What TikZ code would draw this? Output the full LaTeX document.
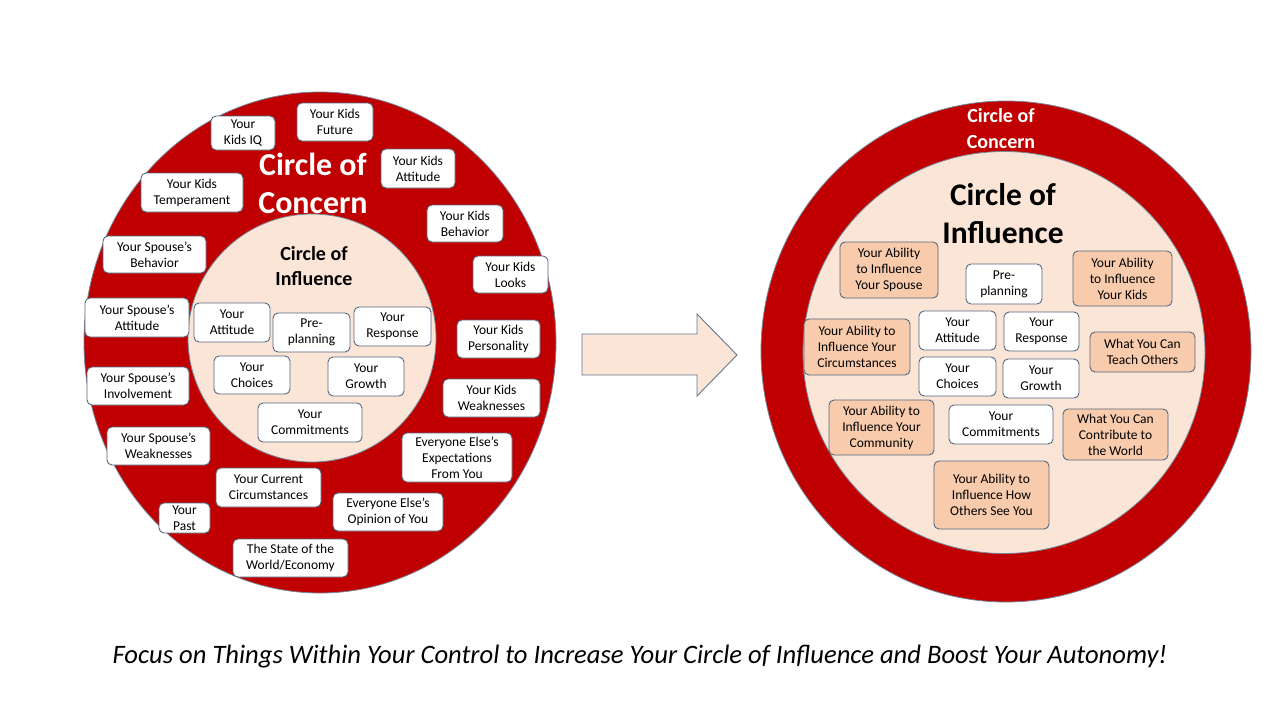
\documentclass[tikz,border=0pt]{standalone}
\usepackage{fontspec}
\setmainfont{Carlito}
\definecolor{cred}{RGB}{192,0,0}
\definecolor{peachL}{RGB}{251,229,214}
\definecolor{peachD}{RGB}{248,203,173}
\definecolor{bline}{RGB}{84,104,128}
\tikzset{
  bxs/.style={draw=bline, line width=0.9pt, rounded corners=5pt, inner sep=0pt, align=center,
    font=\fontsize{13.5}{16}\selectfont, text=black},
  wbox/.style={bxs, fill=white},
  pbox/.style={bxs, fill=peachD},
  ring/.style={draw=bline!80, line width=0.8pt},
}
\newcommand{\bx}[7]{\node[#1, minimum width={#5pt-#3pt}, minimum height={#6pt-#4pt}] (#2) at ({(#3+#5)/2},{(#4+#6)/2}) {#7};}
\begin{document}
\begin{tikzpicture}[x=1pt,y=-1pt]
\useasboundingbox (0,0) rectangle (1280,720);
% left circles
\path[ring, fill=cred] (320,342.5) ellipse [x radius=236, y radius=250.5];
\path[ring, fill=peachL] (312,338) circle [radius=124];
\node[text=white, font=\bfseries\fontsize{32}{38}\selectfont, align=center] (lcc) at (313,183) {Circle of\\Concern};
\node[text=black, font=\bfseries\fontsize{20}{25.5}\selectfont, align=center] (lci) at (314,266) {Circle of\\Influence};
\bx{wbox}{kidsIQ}{211}{116}{275}{150}{Your\\Kids IQ}
\bx{wbox}{kidsFuture}{297}{103}{373}{141}{Your Kids\\Future}
\bx{wbox}{kidsAtt}{381}{149}{455}{188}{Your Kids\\Attitude}
\bx{wbox}{kidsTemp}{141}{173}{243}{212}{Your Kids\\Temperament}
\bx{wbox}{kidsBeh}{427}{205}{503}{242}{Your Kids\\Behavior}
\bx{wbox}{spBeh}{103}{236}{206}{273}{Your Spouse’s\\Behavior}
\bx{wbox}{kidsLooks}{473}{256}{548}{293}{Your Kids\\Looks}
\bx{wbox}{spAtt}{85}{298}{189}{337}{Your Spouse’s\\Attitude}
\bx{wbox}{lAtt}{194}{303}{270}{342}{Your\\Attitude}
\bx{wbox}{lPre}{273}{313}{350}{352}{Pre-\\planning}
\bx{wbox}{lResp}{354}{307}{431}{346}{Your\\Response}
\bx{wbox}{kidsPers}{457}{320}{540}{358}{Your Kids\\Personality}
\bx{wbox}{spInv}{87}{367}{189}{405}{Your Spouse’s\\Involvement}
\bx{wbox}{lChoices}{214}{356}{290}{394}{Your\\Choices}
\bx{wbox}{lGrowth}{328}{357}{404}{396}{Your\\Growth}
\bx{wbox}{kidsWeak}{443}{379}{540}{417}{Your Kids\\Weaknesses}
\bx{wbox}{lCommit}{258}{403}{362}{442}{Your\\Commitments}
\bx{wbox}{spWeak}{107}{427}{210}{465}{Your Spouse’s\\Weaknesses}
\bx{wbox}{expect}{402}{433}{512}{482}{Everyone Else’s\\Expectations\\From You}
\bx{wbox}{circum}{216}{468}{321}{507}{Your Current\\Circumstances}
\bx{wbox}{opinion}{333}{493}{443}{531}{Everyone Else’s\\Opinion of You}
\bx{wbox}{past}{159}{503}{210}{533}{Your\\Past}
\bx{wbox}{world}{233}{539}{348}{577}{The State of the\\World/Economy}
% arrow
\draw[draw=bline!90, line width=0.9pt, fill=peachL] (582,334) -- (697,334) -- (697,314) -- (737,355) -- (697,396) -- (697,375) -- (582,375) -- cycle;
% right circles
\path[ring, fill=cred] (1006,351.5) ellipse [x radius=245, y radius=250.5];
\path[ring, fill=peachL] (1004,352.5) circle [radius=201];
\node[text=white, font=\bfseries\fontsize{20}{26}\selectfont, align=center] (rcc) at (1001,129) {Circle of\\Concern};
\node[text=black, font=\bfseries\fontsize{31.5}{38}\selectfont, align=center] (rci) at (1003,214) {Circle of\\Influence};
\bx{pbox}{abSp}{840}{242}{938}{298}{Your Ability\\to Influence\\Your Spouse}
\bx{wbox}{rPre}{966}{264}{1042}{304}{Pre-\\planning}
\bx{pbox}{abKids}{1073}{251}{1172}{306}{Your Ability\\to Influence\\Your Kids}
\bx{pbox}{abCirc}{804}{319}{910}{375}{Your Ability to\\Influence Your\\Circumstances}
\bx{wbox}{rAtt}{919}{311}{996}{350}{Your\\Attitude}
\bx{wbox}{rResp}{1004}{312}{1079}{351}{Your\\Response}
\bx{pbox}{teach}{1090}{332}{1195}{372}{What You Can\\Teach Others}
\bx{wbox}{rChoices}{919}{357}{996}{396}{Your\\Choices}
\bx{wbox}{rGrowth}{1003}{359}{1079}{398}{Your\\Growth}
\bx{pbox}{abComm}{829}{400}{934}{455}{Your Ability to\\Influence Your\\Community}
\bx{wbox}{rCommit}{949}{405}{1053}{444}{Your\\Commitments}
\bx{pbox}{contrib}{1063}{409}{1168}{460}{What You Can\\Contribute to\\the World}
\bx{pbox}{abOthers}{934}{461}{1049}{529}{Your Ability to\\Influence How\\Others See You}
% caption
\node[font=\itshape\fontsize{26.6}{32}\selectfont] (cap) at (640,657) {Focus on Things Within Your Control to Increase Your Circle of Influence and Boost Your Autonomy!};
\end{tikzpicture}
\end{document}
